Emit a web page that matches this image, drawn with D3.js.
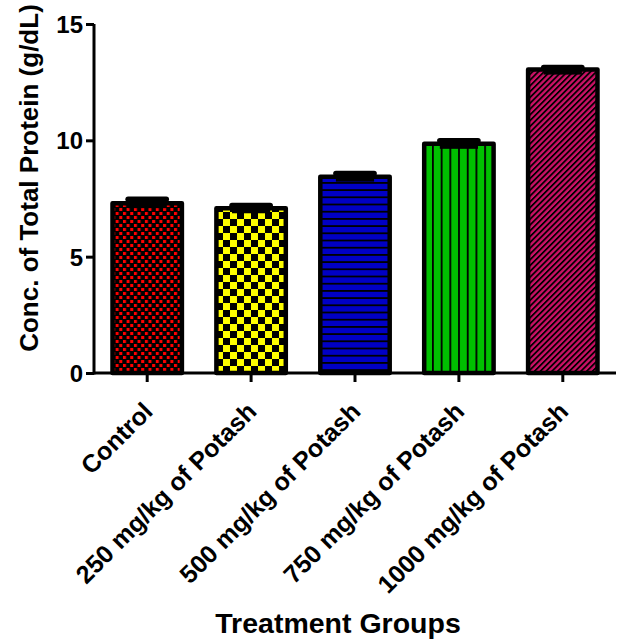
<!DOCTYPE html>
<html>
<head>
<meta charset="utf-8">
<script src="https://cdn.jsdelivr.net/npm/d3@7"></script>
<style>
  html, body { margin: 0; padding: 0; background: #fff; }
  svg { display: block; }
  text { font-family: "Liberation Sans", Arial, Helvetica, sans-serif; font-weight: bold; fill: #000; }
</style>
</head>
<body>
<svg id="chart" width="619" height="644"></svg>
<script>
// ---- data ----
const categories = ["Control", "250 mg/kg of Potash", "500 mg/kg of Potash", "750 mg/kg of Potash", "1000 mg/kg of Potash"];
const values = [7.30, 7.08, 8.44, 9.85, 13.04];
const sems = [0.17, 0.12, 0.13, 0.13, 0.09];
const yTicks = [0, 5, 10, 15];
const yLabel = "Conc. of Total Protein (g/dL)";
const xLabel = "Treatment Groups";
const patternIds = ["pRed", "pYellow", "pBlue", "pGreen", "pPink"];

const svg = d3.select("#chart");
const defs = svg.append("defs");

// red fine checker
let p = defs.append("pattern").attr("id", "pRed").attr("patternUnits", "userSpaceOnUse")
  .attr("width", 7.3).attr("height", 8).attr("x", 112).attr("y", 0);
p.append("rect").attr("width", 7.3).attr("height", 8).attr("fill", "#000");
p.append("rect").attr("x", 0).attr("y", 0).attr("width", 3).attr("height", 3).attr("fill", "#ff0000");
p.append("rect").attr("x", 3.65).attr("y", 4).attr("width", 3).attr("height", 3).attr("fill", "#ff0000");

// yellow checker
p = defs.append("pattern").attr("id", "pYellow").attr("patternUnits", "userSpaceOnUse")
  .attr("width", 14).attr("height", 14).attr("x", 216).attr("y", 2);
p.append("rect").attr("width", 14).attr("height", 14).attr("fill", "#000");
p.append("rect").attr("x", 0).attr("y", 0).attr("width", 7).attr("height", 7).attr("fill", "#ffff00");
p.append("rect").attr("x", 7).attr("y", 7).attr("width", 7).attr("height", 7).attr("fill", "#ffff00");

// blue horizontal stripes
p = defs.append("pattern").attr("id", "pBlue").attr("patternUnits", "userSpaceOnUse")
  .attr("width", 10).attr("height", 7.2).attr("x", 0).attr("y", 2);
p.append("rect").attr("width", 10).attr("height", 7.2).attr("fill", "#0000c4");
p.append("rect").attr("x", 0).attr("y", 0).attr("width", 10).attr("height", 1.8).attr("fill", "#000");

// green vertical stripes
p = defs.append("pattern").attr("id", "pGreen").attr("patternUnits", "userSpaceOnUse")
  .attr("width", 8.7).attr("height", 10).attr("x", 432).attr("y", 0);
p.append("rect").attr("width", 8.7).attr("height", 10).attr("fill", "#00c000");
p.append("rect").attr("x", 0).attr("y", 0).attr("width", 1.8).attr("height", 10).attr("fill", "#000");

// pink diagonal hatch
p = defs.append("pattern").attr("id", "pPink").attr("patternUnits", "userSpaceOnUse")
  .attr("width", 4.1).attr("height", 10).attr("patternTransform", "rotate(45)");
p.append("rect").attr("width", 4.1).attr("height", 10).attr("fill", "#cc1166");
p.append("rect").attr("x", 0).attr("y", 0).attr("width", 1.8).attr("height", 10).attr("fill", "#000");

// ---- scales ----
const x = d3.scaleBand().domain(categories).range([94, 616]).paddingInner(0.332).paddingOuter(0.178);
const y = d3.scaleLinear().domain([0, 15]).range([373, 24]);

// ---- bars ----
svg.append("g").selectAll("rect").data(categories).join("rect")
  .attr("x", d => x(d))
  .attr("y", (d, i) => y(values[i]))
  .attr("width", x.bandwidth())
  .attr("height", (d, i) => y(0) - y(values[i]))
  .attr("fill", (d, i) => `url(#${patternIds[i]})`)
  .attr("stroke", "#000")
  .attr("stroke-width", 4.5)
  .attr("stroke-linejoin", "round");

// ---- error bars ----
const eg = svg.append("g");
categories.forEach((c, i) => {
  const cx = x(c) + x.bandwidth() / 2;
  const capW = x.bandwidth() * 0.55;
  const yTop = y(values[i] + sems[i]);
  eg.append("line").attr("x1", cx - capW / 2).attr("x2", cx + capW / 2)
    .attr("y1", yTop).attr("y2", yTop)
    .attr("stroke", "#000").attr("stroke-width", 5.5).attr("stroke-linecap", "round");
  eg.append("rect").attr("x", cx - capW / 2).attr("width", capW)
    .attr("y", yTop).attr("height", y(values[i]) - yTop + 5)
    .attr("fill", "#000");
});

// ---- axes ----
const yAxis = svg.append("g").attr("transform", "translate(94,0)")
  .call(d3.axisLeft(y).tickValues(yTicks).tickSize(8).tickPadding(3).tickFormat(d3.format("d")));
yAxis.select(".domain").attr("stroke-width", 3).attr("d", `M0,${y(15)}V${y(0) + 1.5}`);
yAxis.selectAll(".tick line").attr("stroke-width", 3);
yAxis.selectAll(".tick text").style("font-size", "24px").attr("dy", "0.36em");

const xAxis = svg.append("g").attr("transform", `translate(0,${y(0)})`)
  .call(d3.axisBottom(x).tickSize(9).tickSizeOuter(0));
xAxis.select(".domain").attr("stroke-width", 3).attr("d", "M94,0H616");
xAxis.selectAll(".tick line").attr("stroke-width", 3);
xAxis.selectAll(".tick text")
  .style("font-size", "25px")
  .attr("text-anchor", "end")
  .attr("x", 0).attr("y", 0).attr("dy", 0)
  .attr("transform", "translate(7,40) rotate(-45)");

// ---- axis titles ----
svg.append("text")
  .attr("transform", `translate(38,${(8 + 348) / 2}) rotate(-90)`)
  .attr("text-anchor", "middle")
  .style("font-size", "26px")
  .text(yLabel);

svg.append("text")
  .attr("x", 338).attr("y", 633)
  .attr("text-anchor", "middle")
  .style("font-size", "28.5px")
  .text(xLabel);
</script>
</body>
</html>
